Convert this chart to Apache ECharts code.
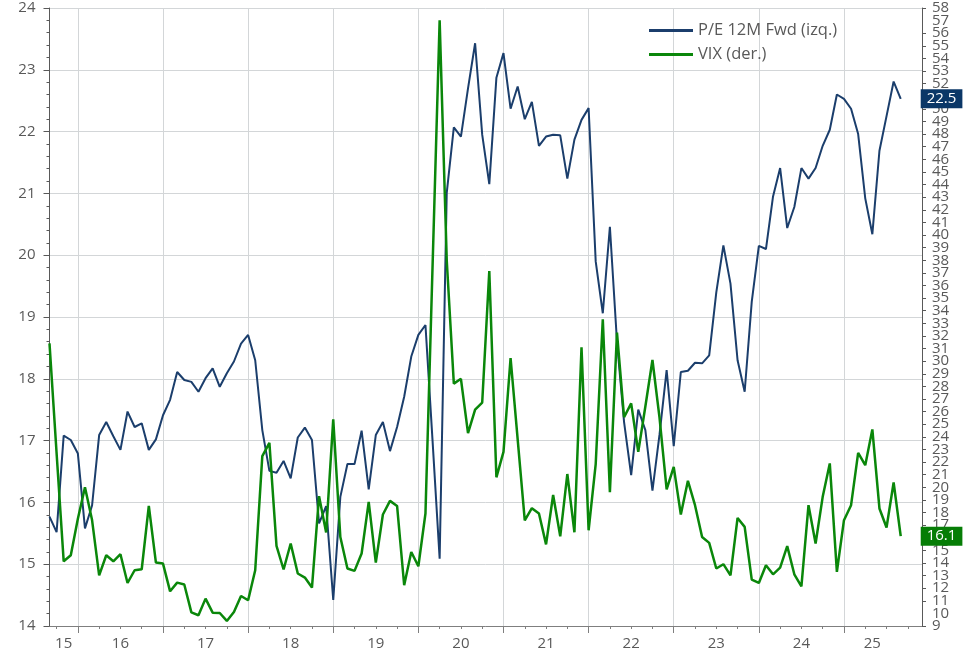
<!DOCTYPE html>
<html>
<head>
<meta charset="utf-8">
<script src="https://cdn.jsdelivr.net/npm/echarts@6/dist/echarts.min.js"></script>
<style>
  html, body { margin: 0; padding: 0; background: #fff; }
  #chart { width: 974px; height: 657px; }
</style>
</head>
<body>
<div id="chart"></div>
<script>
const seriesNames = ['P/E 12M Fwd (izq.)', 'VIX (der.)'];

// monthly, Sep 2015 .. Sep 2025
const peFwd = [
  15.77, 15.52, 17.08, 17.01, 16.79, 15.58, 15.95, 17.09, 17.30, 17.07, 16.85, 17.47,
  17.22, 17.28, 16.85, 17.02, 17.41, 17.66, 18.11, 17.98, 17.95, 17.79, 18.01, 18.17,
  17.87, 18.09, 18.28, 18.57, 18.71, 18.30, 17.17, 16.51, 16.48, 16.67, 16.39, 17.05,
  17.21, 17.01, 15.66, 15.94, 14.42, 16.09, 16.62, 16.62, 17.16, 16.21, 17.09, 17.30,
  16.83, 17.22, 17.71, 18.36, 18.71, 18.87, 17.00, 15.09, 21.01, 22.07, 21.92, 22.70,
  23.43, 21.95, 21.15, 22.87, 23.27, 22.37, 22.73, 22.20, 22.48, 21.77, 21.92, 21.95,
  21.94, 21.24, 21.87, 22.19, 22.38, 19.90, 19.06, 20.46, 18.60, 17.30, 16.44, 17.50,
  17.17, 16.19, 17.10, 18.14, 16.91, 18.11, 18.13, 18.26, 18.25, 18.38, 19.40, 20.16,
  19.54, 18.30, 17.79, 19.25, 20.15, 20.10, 20.95, 21.41, 20.44, 20.78, 21.41, 21.24,
  21.41, 21.77, 22.03, 22.60, 22.53, 22.37, 21.96, 20.92, 20.34, 21.69, 22.25, 22.81,
  22.53
];

const vix = [
  31.41, 22.70, 14.13, 14.61, 17.50, 20.00, 17.40, 13.02, 14.61, 14.13, 14.69, 12.41,
  13.42, 13.50, 18.52, 14.03, 13.95, 11.75, 12.44, 12.29, 10.08, 9.85, 11.17, 10.06,
  10.03, 9.40, 10.11, 11.38, 11.04, 13.42, 22.47, 23.52, 15.35, 13.48, 15.54, 13.16,
  12.84, 12.05, 19.29, 16.41, 25.38, 16.06, 13.56, 13.37, 14.75, 18.84, 14.03, 17.84,
  18.92, 18.52, 12.23, 14.87, 13.74, 17.92, 37.50, 57.02, 38.00, 28.22, 28.60, 24.29,
  26.15, 26.72, 37.14, 20.79, 22.80, 30.25, 23.80, 17.38, 18.34, 17.92, 15.47, 19.39,
  16.11, 21.05, 16.43, 31.09, 16.59, 21.84, 33.32, 19.61, 32.27, 25.55, 26.65, 22.81,
  26.40, 30.09, 25.50, 19.83, 21.62, 17.84, 20.51, 18.58, 16.06, 15.59, 13.56, 13.90,
  13.02, 17.57, 16.86, 12.68, 12.41, 13.82, 13.10, 13.63, 15.33, 13.10, 12.15, 18.58,
  15.54, 19.24, 21.89, 13.29, 17.39, 18.58, 22.73, 21.75, 24.59, 18.32, 16.81, 20.38,
  16.12
];

const peRange = [14, 24];
const vixRange = [9, 58];

// month categories, axis runs on to Dec 2025
const months = [];
for (let y = 2015, m = 9; y < 2026; ) {
  months.push(y + '-' + String(m).padStart(2, '0'));
  m++;
  if (m > 12) { m = 1; y++; }
}

// year label sits in the middle of that year's data months
const yearIdx = {};
peFwd.forEach((v, i) => {
  const yr = months[i].slice(0, 4);
  (yearIdx[yr] = yearIdx[yr] || []).push(i);
});
const labelIdx = Object.values(yearIdx).map(a => Math.round((a[0] + a[a.length - 1]) / 2));

const monthOf = i => +months[i].slice(5);
const txt = '#595959';
const gridCol = '#d3d6d8';
const font = 'Open Sans';

// labels next to min/max get dropped by echarts when crowded, so a twin axis draws those two
const nearEnds = [vixRange[0] + 1, vixRange[1] - 1];

const rightLabel = {
  fontSize: 15, color: txt, margin: 10, hideOverlap: false
};

const chart = echarts.init(document.getElementById('chart'));
chart.setOption({
  animation: false,
  textStyle: { fontFamily: font },
  grid: { left: 49.5, right: 52, top: 8, bottom: 31, containLabel: false },
  legend: {
    orient: 'vertical',
    left: 644,
    top: 17,
    icon: 'rect',
    itemWidth: 44,
    itemHeight: 3,
    itemGap: 7,
    textStyle: { fontSize: 16.5, color: txt, fontFamily: font },
    data: seriesNames
  },
  xAxis: [
    {
      type: 'category',
      data: months,
      boundaryGap: false,
      axisLine: { lineStyle: { color: '#7f7f7f' } },
      axisTick: { interval: i => monthOf(i) % 3 === 1, length: 3, lineStyle: { color: '#7f7f7f' } },
      axisLabel: {
        interval: i => labelIdx.includes(i),
        formatter: v => v.slice(2, 4),
        fontSize: 15, color: txt, margin: 10
      },
      splitLine: { show: false }
    },
    {
      type: 'category',
      data: months,
      boundaryGap: false,
      position: 'bottom',
      axisLine: { show: false },
      axisTick: { interval: i => monthOf(i) === 1, length: 7, lineStyle: { color: '#7f7f7f' } },
      axisLabel: { show: false },
      splitLine: { show: true, interval: i => monthOf(i) === 1, lineStyle: { color: gridCol } }
    }
  ],
  yAxis: [
    {
      type: 'value',
      position: 'left',
      min: peRange[0], max: peRange[1], interval: 1,
      axisLine: { show: true, lineStyle: { color: '#595959' } },
      axisTick: { show: true, length: 6, lineStyle: { color: '#595959' } },
      minorTick: { show: true, splitNumber: 5, length: 3, lineStyle: { color: '#595959' } },
      axisLabel: { fontSize: 15, color: txt, margin: 14 },
      splitLine: { lineStyle: { color: gridCol } }
    },
    {
      type: 'value',
      position: 'right',
      min: vixRange[0], max: vixRange[1], interval: 1,
      axisLine: { show: true, lineStyle: { color: '#595959' } },
      axisTick: { show: true, length: 4, lineStyle: { color: '#595959' } },
      axisLabel: Object.assign({ showMinLabel: true, showMaxLabel: true }, rightLabel),
      splitLine: { show: false }
    },
    {
      type: 'value',
      position: 'right',
      min: vixRange[0], max: vixRange[1], interval: 1,
      axisLine: { show: false },
      axisTick: { show: false },
      axisLabel: Object.assign({
        showMinLabel: false, showMaxLabel: false,
        formatter: v => nearEnds.includes(v) ? String(v) : ''
      }, rightLabel),
      splitLine: { show: false }
    }
  ],
  series: [
    {
      name: seriesNames[0],
      type: 'line',
      yAxisIndex: 0,
      data: peFwd,
      symbol: 'none',
      lineStyle: { width: 2, color: '#1b3e6c' },
      itemStyle: { color: '#1b3e6c' },
      endLabel: {
        show: true,
        formatter: p => p.value.toFixed(1),
        distance: 20,
        backgroundColor: '#0b3767',
        color: '#fff',
        fontSize: 15,
        padding: [2, 6]
      }
    },
    {
      name: seriesNames[1],
      type: 'line',
      yAxisIndex: 1,
      data: vix,
      symbol: 'none',
      lineStyle: { width: 2.5, color: '#0a870a' },
      itemStyle: { color: '#0a870a' },
      endLabel: {
        show: true,
        formatter: p => p.value.toFixed(1),
        distance: 20,
        backgroundColor: '#067d06',
        color: '#fff',
        fontSize: 15,
        padding: [2, 6]
      }
    }
  ]
});
</script>
</body>
</html>
